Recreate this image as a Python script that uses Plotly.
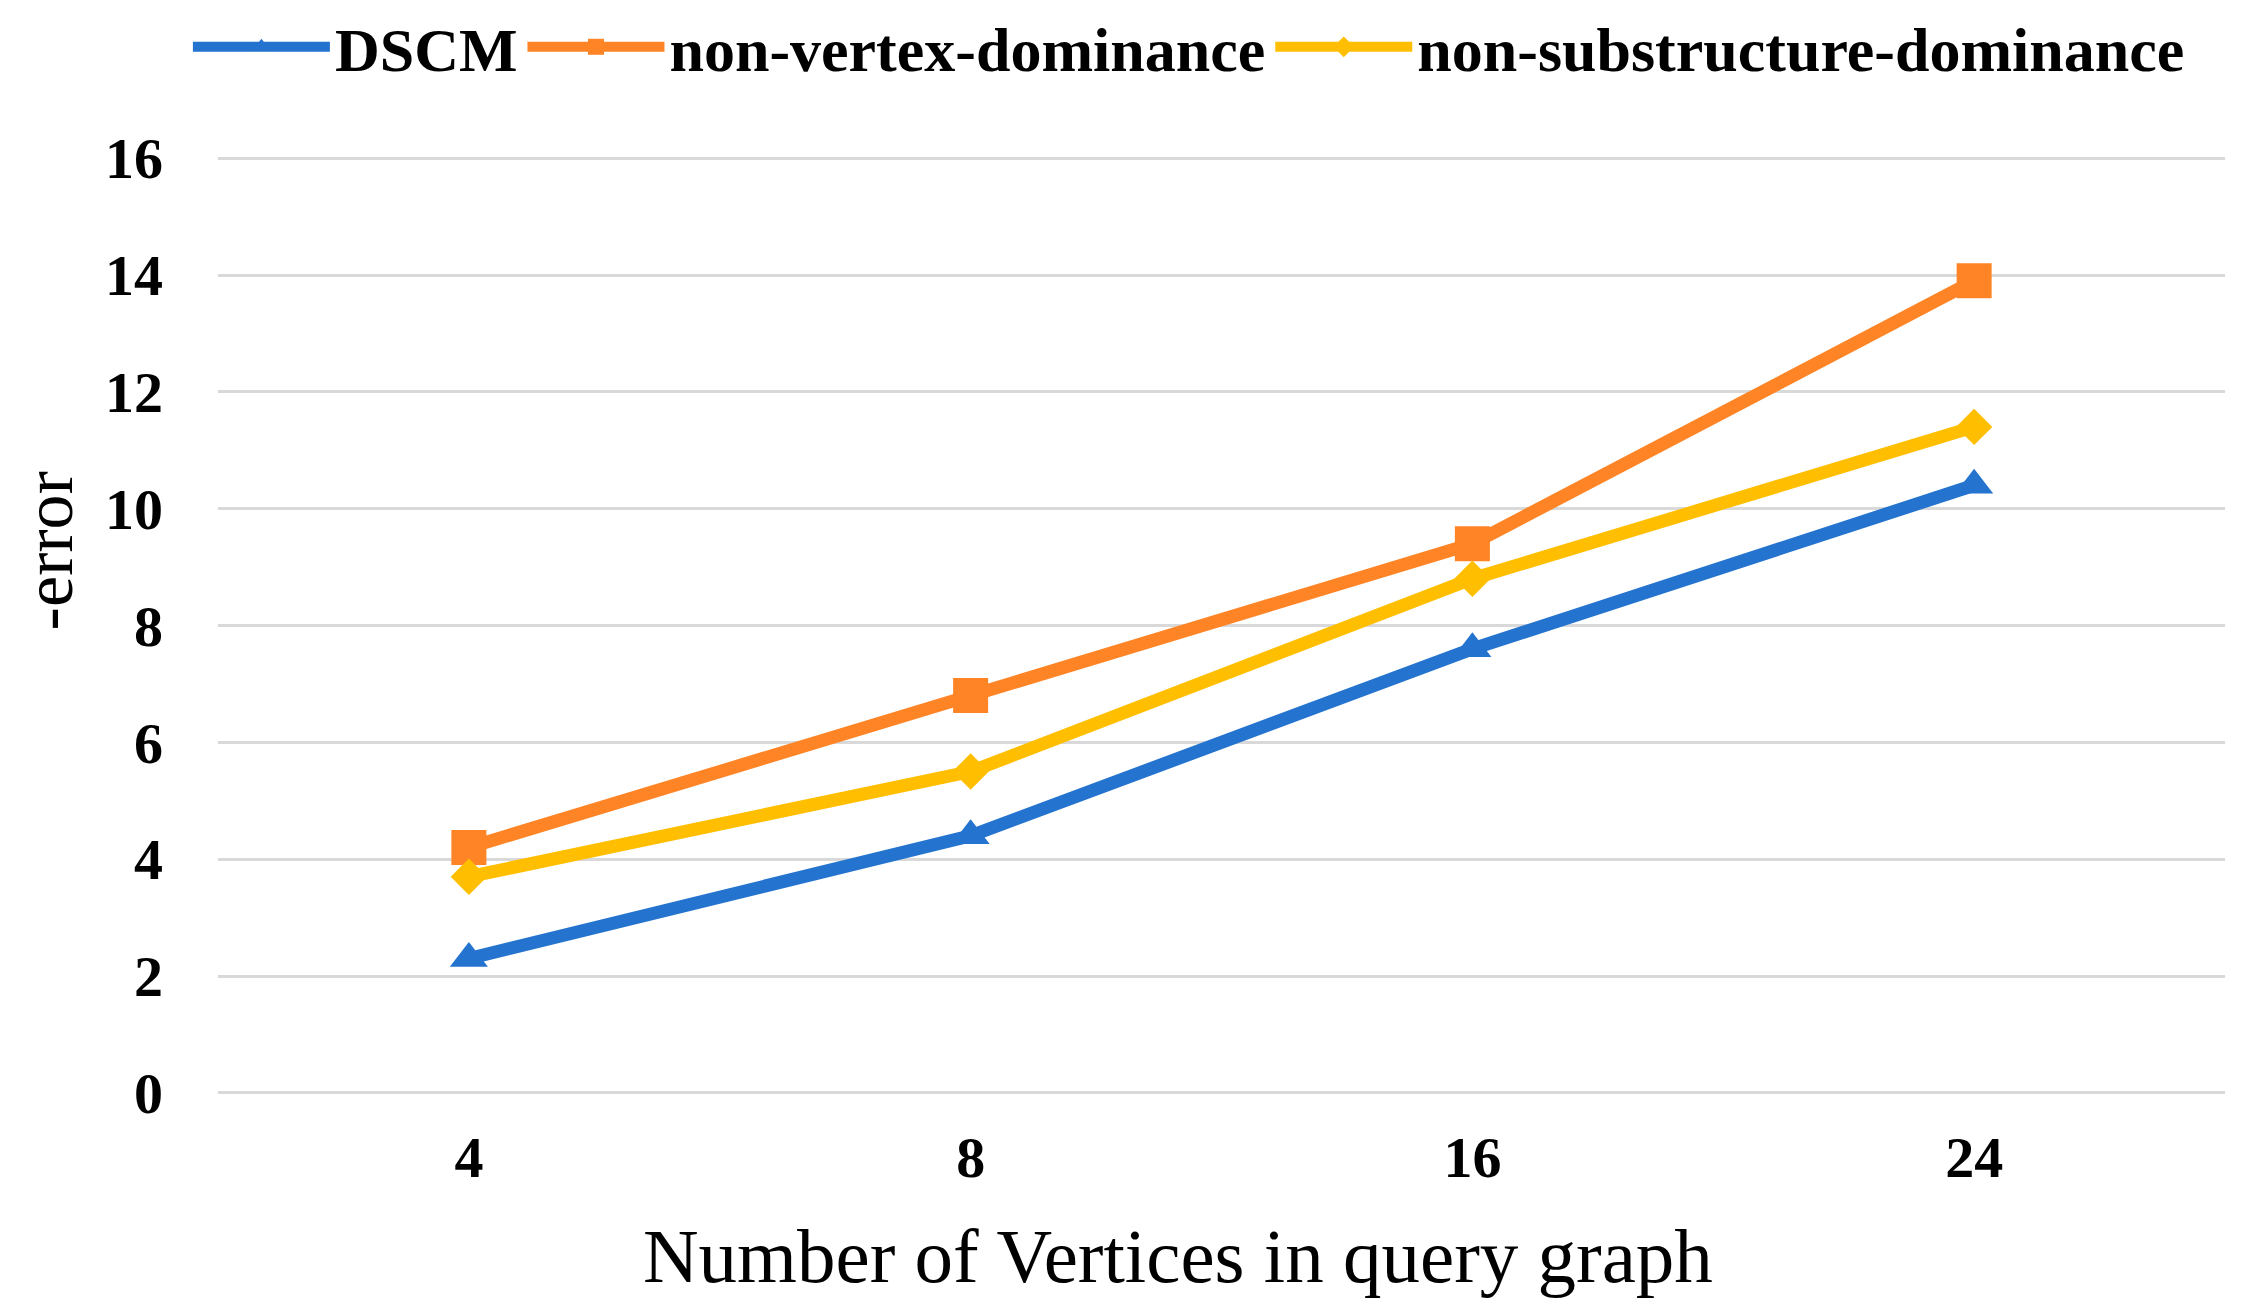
import plotly.graph_objects as go

categories = ["4", "8", "16", "24"]
dscm = [2.3, 4.4, 7.6, 10.4]
non_vertex = [4.2, 6.8, 9.4, 13.9]
non_substructure = [3.7, 5.5, 8.8, 11.4]
y_ticks = [0, 2, 4, 6, 8, 10, 12, 14, 16]

series_names = ["DSCM", "non-vertex-dominance", "non-substructure-dominance"]
series_values = [dscm, non_vertex, non_substructure]
colors = ["#2373CF", "#FF8425", "#FFBF00"]
symbols = ["triangle-up", "square", "diamond"]
sizes = [33, 35, 28]

FONT = "Liberation Serif"
W, H = 2242, 1307   # page body adds an 8px offset
L, R, T, B = 210, 25, 149, 221

fig = go.Figure()
for name, vals, c, s, sz in zip(series_names, series_values, colors, symbols, sizes):
    fig.add_trace(go.Scatter(
        x=categories, y=vals, name=name, mode="lines+markers",
        line=dict(color=c, width=13),
        marker=dict(symbol=s, size=sz, color=c, line=dict(width=0)),
    ))

fig.update_layout(
    width=W, height=H,
    margin=dict(l=L, r=R, t=T, b=B, autoexpand=False),
    paper_bgcolor="white", plot_bgcolor="white",
    font=dict(family=FONT, color="black"),
    showlegend=True,
    legend=dict(
        orientation="h", x=-0.015, xanchor="left",
        y=1.1174, yanchor="middle",
        font=dict(family=FONT, size=62, weight="bold", color="black"),
        itemwidth=137, traceorder="normal", bgcolor="rgba(0,0,0,0)",
    ),
    xaxis=dict(
        type="category", range=[-0.5, 3.5],
        showgrid=False, showline=False, zeroline=False, ticks="",
        tickfont=dict(family=FONT, size=58, weight="bold", color="black"),
        ticklabelstandoff=24,
    ),
    yaxis=dict(
        range=[-0.02, 16.02], tickvals=y_ticks, ticktext=[str(v) for v in y_ticks],
        showgrid=True, gridcolor="#D9D9D9", gridwidth=3,
        zeroline=True, zerolinecolor="#D9D9D9", zerolinewidth=3,
        showline=False, ticks="",
        tickfont=dict(family=FONT, size=58, weight="bold", color="black"),
        ticklabelstandoff=54,
    ),
    annotations=[
        dict(text="Number of Vertices in query graph", xref="paper", yref="paper",
             x=0.4783, y=-0.1729, xanchor="center", yanchor="middle", showarrow=False,
             font=dict(family=FONT, size=77, color="black")),
        dict(text="-error", xref="paper", yref="paper", textangle=-90,
             x=-0.0845, y=0.5795, xanchor="center", yanchor="middle", showarrow=False,
             font=dict(family=FONT, size=70, color="black")),
    ],
)

fig.write_html("out.html")
